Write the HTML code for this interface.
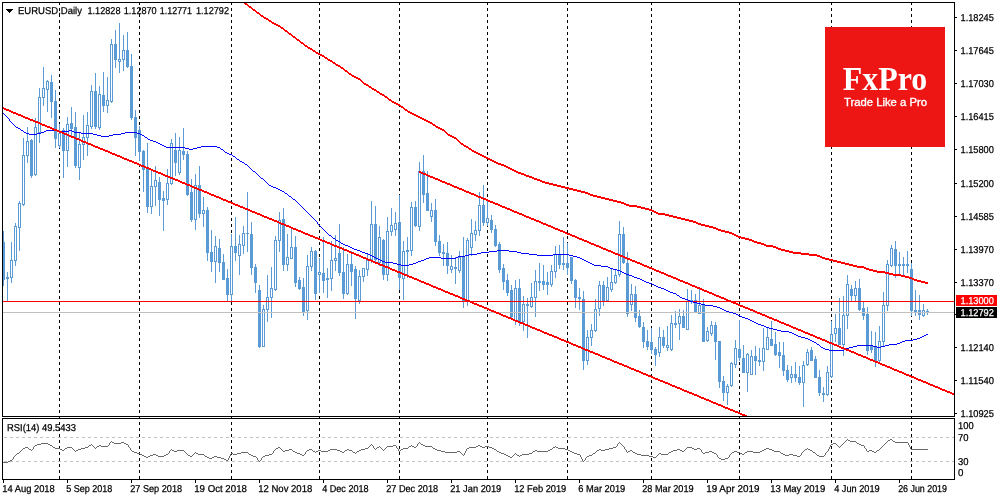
<!DOCTYPE html><html><head><meta charset="utf-8"><title>EURUSD Daily</title><style>
html,body{margin:0;padding:0;background:#fff;width:1000px;height:500px;overflow:hidden}
svg{display:block}text{font-family:"Liberation Sans",Arial,sans-serif;fill:#000}.ax{stroke:#000;stroke-width:0.25px;text-rendering:geometricPrecision}
.ax{font-size:10px}
</style></head><body>
<svg width="1000" height="500" viewBox="0 0 1000 500">
<rect x="0" y="0" width="1000" height="500" fill="#fff"/>
<defs><clipPath id="cm"><rect x="3" y="3" width="951" height="413"/></clipPath><clipPath id="cr"><rect x="3" y="419" width="951" height="60"/></clipPath></defs>
<g stroke="#000" stroke-width="1" stroke-dasharray="3 3" shape-rendering="crispEdges"><line x1="59.5" y1="2" x2="59.5" y2="479"/><line x1="139.5" y1="2" x2="139.5" y2="479"/><line x1="231.5" y1="2" x2="231.5" y2="479"/><line x1="319.5" y1="2" x2="319.5" y2="479"/><line x1="399.5" y1="2" x2="399.5" y2="479"/><line x1="487.5" y1="2" x2="487.5" y2="479"/><line x1="567.5" y1="2" x2="567.5" y2="479"/><line x1="651.5" y1="2" x2="651.5" y2="479"/><line x1="739.5" y1="2" x2="739.5" y2="479"/><line x1="831.5" y1="2" x2="831.5" y2="479"/><line x1="911.5" y1="2" x2="911.5" y2="479"/></g>
<g clip-path="url(#cr)">
<g stroke="#c0c0c0" stroke-width="1" stroke-dasharray="3 3" shape-rendering="crispEdges"><line x1="4" y1="437.5" x2="954" y2="437.5"/><line x1="4" y1="461.5" x2="954" y2="461.5"/></g>
<path d="M847 439h1v1h-1zM890 439h2v1h-2zM846 440h1v1h-1zM848 440h2v1h-2zM888 440h2v1h-2zM892 440h1v1h-1zM111 441h1v1h-1zM845 441h1v1h-1zM850 441h6v1h-6zM887 441h1v1h-1zM893 441h2v1h-2zM110 442h1v1h-1zM112 442h2v1h-2zM121 442h3v1h-3zM419 442h1v1h-1zM619 442h1v1h-1zM844 442h1v1h-1zM856 442h1v1h-1zM886 442h1v1h-1zM895 442h13v1h-13zM41 443h7v1h-7zM109 443h1v1h-1zM114 443h7v1h-7zM124 443h2v1h-2zM418 443h1v1h-1zM420 443h1v1h-1zM618 443h1v1h-1zM620 443h1v1h-1zM833 443h3v1h-3zM843 443h1v1h-1zM857 443h2v1h-2zM885 443h1v1h-1zM908 443h1v1h-1zM37 444h4v1h-4zM48 444h2v1h-2zM91 444h1v1h-1zM109 444h1v1h-1zM126 444h2v1h-2zM371 444h1v1h-1zM417 444h1v1h-1zM421 444h2v1h-2zM617 444h1v1h-1zM621 444h1v1h-1zM831 444h2v1h-2zM836 444h1v1h-1zM842 444h1v1h-1zM859 444h2v1h-2zM884 444h1v1h-1zM908 444h1v1h-1zM35 445h2v1h-2zM50 445h2v1h-2zM89 445h2v1h-2zM92 445h1v1h-1zM99 445h2v1h-2zM108 445h1v1h-1zM128 445h1v1h-1zM370 445h1v1h-1zM372 445h1v1h-1zM393 445h3v1h-3zM411 445h1v1h-1zM417 445h1v1h-1zM423 445h2v1h-2zM478 445h2v1h-2zM617 445h1v1h-1zM622 445h1v1h-1zM830 445h1v1h-1zM837 445h1v1h-1zM841 445h1v1h-1zM861 445h3v1h-3zM883 445h1v1h-1zM909 445h1v1h-1zM34 446h1v1h-1zM52 446h1v1h-1zM88 446h1v1h-1zM93 446h1v1h-1zM97 446h2v1h-2zM101 446h7v1h-7zM128 446h1v1h-1zM369 446h1v1h-1zM373 446h1v1h-1zM379 446h1v1h-1zM387 446h6v1h-6zM396 446h1v1h-1zM409 446h2v1h-2zM412 446h2v1h-2zM416 446h1v1h-1zM425 446h7v1h-7zM476 446h2v1h-2zM480 446h2v1h-2zM485 446h4v1h-4zM555 446h1v1h-1zM616 446h1v1h-1zM623 446h1v1h-1zM830 446h1v1h-1zM838 446h1v1h-1zM840 446h1v1h-1zM864 446h1v1h-1zM882 446h1v1h-1zM909 446h1v1h-1zM25 447h3v1h-3zM33 447h1v1h-1zM53 447h2v1h-2zM67 447h5v1h-5zM85 447h3v1h-3zM94 447h1v1h-1zM96 447h1v1h-1zM129 447h1v1h-1zM278 447h2v1h-2zM368 447h1v1h-1zM373 447h1v1h-1zM377 447h2v1h-2zM380 447h1v1h-1zM386 447h1v1h-1zM396 447h1v1h-1zM408 447h1v1h-1zM414 447h2v1h-2zM432 447h1v1h-1zM469 447h7v1h-7zM482 447h3v1h-3zM489 447h3v1h-3zM553 447h2v1h-2zM556 447h2v1h-2zM613 447h3v1h-3zM624 447h1v1h-1zM687 447h5v1h-5zM829 447h1v1h-1zM839 447h1v1h-1zM864 447h1v1h-1zM881 447h1v1h-1zM910 447h1v1h-1zM23 448h2v1h-2zM28 448h1v1h-1zM33 448h1v1h-1zM55 448h5v1h-5zM65 448h2v1h-2zM72 448h1v1h-1zM81 448h4v1h-4zM95 448h1v1h-1zM130 448h1v1h-1zM276 448h2v1h-2zM280 448h1v1h-1zM365 448h3v1h-3zM374 448h1v1h-1zM376 448h1v1h-1zM381 448h1v1h-1zM385 448h1v1h-1zM397 448h1v1h-1zM403 448h5v1h-5zM433 448h2v1h-2zM467 448h2v1h-2zM492 448h2v1h-2zM552 448h1v1h-1zM558 448h7v1h-7zM609 448h4v1h-4zM624 448h1v1h-1zM686 448h1v1h-1zM692 448h2v1h-2zM697 448h3v1h-3zM766 448h3v1h-3zM807 448h1v1h-1zM829 448h1v1h-1zM865 448h1v1h-1zM880 448h1v1h-1zM910 448h1v1h-1zM22 449h1v1h-1zM29 449h2v1h-2zM32 449h1v1h-1zM60 449h2v1h-2zM64 449h1v1h-1zM73 449h1v1h-1zM78 449h3v1h-3zM130 449h1v1h-1zM171 449h1v1h-1zM275 449h1v1h-1zM281 449h1v1h-1zM289 449h3v1h-3zM309 449h3v1h-3zM330 449h7v1h-7zM347 449h2v1h-2zM361 449h4v1h-4zM375 449h1v1h-1zM382 449h1v1h-1zM384 449h1v1h-1zM398 449h1v1h-1zM401 449h2v1h-2zM435 449h2v1h-2zM466 449h1v1h-1zM494 449h2v1h-2zM550 449h2v1h-2zM565 449h3v1h-3zM599 449h2v1h-2zM605 449h4v1h-4zM625 449h1v1h-1zM677 449h3v1h-3zM685 449h1v1h-1zM694 449h3v1h-3zM700 449h1v1h-1zM764 449h2v1h-2zM769 449h3v1h-3zM805 449h2v1h-2zM808 449h2v1h-2zM828 449h1v1h-1zM866 449h1v1h-1zM879 449h1v1h-1zM911 449h17v1h-17zM21 450h1v1h-1zM31 450h1v1h-1zM62 450h2v1h-2zM74 450h1v1h-1zM76 450h2v1h-2zM131 450h1v1h-1zM170 450h1v1h-1zM172 450h2v1h-2zM177 450h7v1h-7zM274 450h1v1h-1zM282 450h1v1h-1zM285 450h4v1h-4zM292 450h1v1h-1zM307 450h2v1h-2zM312 450h1v1h-1zM318 450h3v1h-3zM328 450h2v1h-2zM337 450h3v1h-3zM345 450h2v1h-2zM349 450h3v1h-3zM359 450h2v1h-2zM383 450h1v1h-1zM398 450h1v1h-1zM400 450h1v1h-1zM437 450h4v1h-4zM466 450h1v1h-1zM496 450h1v1h-1zM535 450h2v1h-2zM548 450h2v1h-2zM568 450h2v1h-2zM597 450h2v1h-2zM601 450h4v1h-4zM626 450h1v1h-1zM630 450h2v1h-2zM673 450h4v1h-4zM680 450h2v1h-2zM684 450h1v1h-1zM701 450h1v1h-1zM762 450h2v1h-2zM772 450h2v1h-2zM804 450h1v1h-1zM810 450h2v1h-2zM828 450h1v1h-1zM866 450h1v1h-1zM869 450h3v1h-3zM877 450h2v1h-2zM20 451h1v1h-1zM75 451h1v1h-1zM132 451h2v1h-2zM169 451h1v1h-1zM174 451h3v1h-3zM184 451h1v1h-1zM273 451h1v1h-1zM283 451h2v1h-2zM293 451h2v1h-2zM306 451h1v1h-1zM313 451h2v1h-2zM316 451h2v1h-2zM321 451h7v1h-7zM340 451h2v1h-2zM344 451h1v1h-1zM352 451h1v1h-1zM357 451h2v1h-2zM399 451h1v1h-1zM441 451h4v1h-4zM457 451h3v1h-3zM465 451h1v1h-1zM497 451h2v1h-2zM533 451h2v1h-2zM537 451h11v1h-11zM570 451h2v1h-2zM596 451h1v1h-1zM626 451h1v1h-1zM628 451h2v1h-2zM632 451h1v1h-1zM671 451h2v1h-2zM682 451h2v1h-2zM701 451h1v1h-1zM709 451h3v1h-3zM734 451h3v1h-3zM747 451h6v1h-6zM760 451h2v1h-2zM774 451h6v1h-6zM803 451h1v1h-1zM812 451h1v1h-1zM827 451h1v1h-1zM867 451h2v1h-2zM872 451h2v1h-2zM876 451h1v1h-1zM19 452h1v1h-1zM134 452h3v1h-3zM169 452h1v1h-1zM185 452h1v1h-1zM195 452h1v1h-1zM241 452h7v1h-7zM273 452h1v1h-1zM295 452h2v1h-2zM305 452h1v1h-1zM315 452h1v1h-1zM342 452h2v1h-2zM353 452h2v1h-2zM356 452h1v1h-1zM445 452h12v1h-12zM460 452h1v1h-1zM465 452h1v1h-1zM499 452h2v1h-2zM532 452h1v1h-1zM572 452h2v1h-2zM595 452h1v1h-1zM627 452h1v1h-1zM633 452h2v1h-2zM669 452h2v1h-2zM702 452h1v1h-1zM705 452h4v1h-4zM712 452h2v1h-2zM732 452h2v1h-2zM737 452h3v1h-3zM745 452h2v1h-2zM753 452h7v1h-7zM780 452h1v1h-1zM802 452h1v1h-1zM813 452h2v1h-2zM826 452h1v1h-1zM874 452h2v1h-2zM17 453h2v1h-2zM137 453h3v1h-3zM168 453h1v1h-1zM186 453h1v1h-1zM194 453h1v1h-1zM196 453h2v1h-2zM231 453h2v1h-2zM237 453h4v1h-4zM248 453h1v1h-1zM272 453h1v1h-1zM297 453h3v1h-3zM305 453h1v1h-1zM355 453h1v1h-1zM461 453h1v1h-1zM464 453h1v1h-1zM501 453h3v1h-3zM515 453h1v1h-1zM529 453h3v1h-3zM574 453h3v1h-3zM593 453h2v1h-2zM635 453h2v1h-2zM659 453h2v1h-2zM668 453h1v1h-1zM703 453h2v1h-2zM714 453h2v1h-2zM731 453h1v1h-1zM740 453h2v1h-2zM744 453h1v1h-1zM781 453h2v1h-2zM801 453h1v1h-1zM815 453h1v1h-1zM825 453h1v1h-1zM16 454h1v1h-1zM140 454h2v1h-2zM153 454h3v1h-3zM166 454h2v1h-2zM187 454h1v1h-1zM193 454h1v1h-1zM198 454h6v1h-6zM230 454h1v1h-1zM233 454h4v1h-4zM249 454h2v1h-2zM269 454h3v1h-3zM300 454h2v1h-2zM304 454h1v1h-1zM462 454h1v1h-1zM464 454h1v1h-1zM504 454h2v1h-2zM514 454h1v1h-1zM516 454h1v1h-1zM522 454h7v1h-7zM577 454h3v1h-3zM592 454h1v1h-1zM637 454h4v1h-4zM658 454h1v1h-1zM661 454h7v1h-7zM716 454h1v1h-1zM730 454h1v1h-1zM742 454h2v1h-2zM783 454h2v1h-2zM789 454h4v1h-4zM801 454h1v1h-1zM816 454h1v1h-1zM825 454h1v1h-1zM15 455h1v1h-1zM142 455h2v1h-2zM150 455h3v1h-3zM156 455h2v1h-2zM164 455h2v1h-2zM188 455h2v1h-2zM192 455h1v1h-1zM204 455h1v1h-1zM230 455h1v1h-1zM251 455h2v1h-2zM265 455h4v1h-4zM302 455h2v1h-2zM463 455h1v1h-1zM506 455h2v1h-2zM513 455h1v1h-1zM517 455h2v1h-2zM520 455h2v1h-2zM580 455h1v1h-1zM589 455h3v1h-3zM641 455h8v1h-8zM657 455h1v1h-1zM717 455h1v1h-1zM729 455h1v1h-1zM785 455h4v1h-4zM793 455h4v1h-4zM800 455h1v1h-1zM817 455h2v1h-2zM824 455h1v1h-1zM14 456h1v1h-1zM144 456h2v1h-2zM148 456h2v1h-2zM158 456h6v1h-6zM190 456h2v1h-2zM205 456h2v1h-2zM214 456h3v1h-3zM229 456h1v1h-1zM253 456h3v1h-3zM263 456h2v1h-2zM508 456h2v1h-2zM512 456h1v1h-1zM519 456h1v1h-1zM580 456h1v1h-1zM587 456h2v1h-2zM649 456h4v1h-4zM656 456h1v1h-1zM717 456h1v1h-1zM729 456h1v1h-1zM797 456h3v1h-3zM819 456h5v1h-5zM13 457h1v1h-1zM146 457h2v1h-2zM207 457h2v1h-2zM212 457h2v1h-2zM217 457h4v1h-4zM229 457h1v1h-1zM256 457h1v1h-1zM262 457h1v1h-1zM510 457h2v1h-2zM581 457h1v1h-1zM586 457h1v1h-1zM653 457h3v1h-3zM718 457h1v1h-1zM728 457h1v1h-1zM13 458h1v1h-1zM209 458h3v1h-3zM221 458h3v1h-3zM228 458h1v1h-1zM257 458h1v1h-1zM261 458h1v1h-1zM581 458h1v1h-1zM585 458h1v1h-1zM719 458h2v1h-2zM725 458h3v1h-3zM12 459h1v1h-1zM224 459h2v1h-2zM228 459h1v1h-1zM257 459h1v1h-1zM261 459h1v1h-1zM582 459h1v1h-1zM585 459h1v1h-1zM721 459h4v1h-4zM10 460h2v1h-2zM226 460h2v1h-2zM258 460h1v1h-1zM260 460h1v1h-1zM582 460h1v1h-1zM584 460h1v1h-1zM8 461h2v1h-2zM259 461h1v1h-1zM583 461h1v1h-1zM3 462h5v1h-5z" fill="#696969" shape-rendering="crispEdges"/>
</g>
<g clip-path="url(#cm)">
<g fill="#5b9bd5" shape-rendering="crispEdges"><rect x="3" y="231" width="1" height="55"/><rect x="2" y="242" width="3" height="38"/><rect x="7" y="272" width="1" height="30"/><rect x="6" y="277" width="3" height="2"/><rect x="11" y="242" width="1" height="41"/><rect x="10" y="260" width="3" height="18"/><rect x="15" y="223" width="1" height="43"/><rect x="14" y="226" width="3" height="35"/><rect x="19" y="201" width="1" height="50"/><rect x="18" y="203" width="3" height="25"/><rect x="23" y="138" width="1" height="68"/><rect x="22" y="155" width="3" height="50"/><rect x="27" y="127" width="1" height="36"/><rect x="26" y="141" width="3" height="15"/><rect x="31" y="139" width="1" height="39"/><rect x="30" y="140" width="3" height="36"/><rect x="35" y="118" width="1" height="58"/><rect x="34" y="127" width="3" height="48"/><rect x="39" y="88" width="1" height="55"/><rect x="38" y="97" width="3" height="36"/><rect x="43" y="67" width="1" height="39"/><rect x="42" y="88" width="3" height="10"/><rect x="47" y="80" width="1" height="32"/><rect x="46" y="81" width="3" height="9"/><rect x="51" y="75" width="1" height="43"/><rect x="50" y="82" width="3" height="20"/><rect x="55" y="90" width="1" height="58"/><rect x="54" y="101" width="3" height="38"/><rect x="59" y="124" width="1" height="24"/><rect x="58" y="133" width="3" height="13"/><rect x="63" y="128" width="1" height="50"/><rect x="62" y="130" width="3" height="21"/><rect x="67" y="117" width="1" height="50"/><rect x="66" y="124" width="3" height="27"/><rect x="71" y="107" width="1" height="29"/><rect x="70" y="123" width="3" height="6"/><rect x="75" y="112" width="1" height="56"/><rect x="74" y="127" width="3" height="39"/><rect x="79" y="132" width="1" height="48"/><rect x="78" y="144" width="3" height="24"/><rect x="83" y="115" width="1" height="45"/><rect x="82" y="137" width="3" height="8"/><rect x="87" y="112" width="1" height="44"/><rect x="86" y="125" width="3" height="13"/><rect x="91" y="85" width="1" height="44"/><rect x="90" y="91" width="3" height="36"/><rect x="95" y="73" width="1" height="56"/><rect x="94" y="91" width="3" height="36"/><rect x="99" y="86" width="1" height="44"/><rect x="98" y="94" width="3" height="34"/><rect x="103" y="72" width="1" height="40"/><rect x="102" y="95" width="3" height="11"/><rect x="107" y="77" width="1" height="36"/><rect x="106" y="100" width="3" height="6"/><rect x="111" y="39" width="1" height="64"/><rect x="110" y="44" width="3" height="58"/><rect x="115" y="30" width="1" height="38"/><rect x="114" y="44" width="3" height="16"/><rect x="119" y="23" width="1" height="50"/><rect x="118" y="59" width="3" height="3"/><rect x="123" y="35" width="1" height="36"/><rect x="122" y="50" width="3" height="10"/><rect x="127" y="32" width="1" height="36"/><rect x="126" y="50" width="3" height="17"/><rect x="131" y="54" width="1" height="66"/><rect x="130" y="66" width="3" height="52"/><rect x="135" y="110" width="1" height="46"/><rect x="134" y="117" width="3" height="21"/><rect x="139" y="126" width="1" height="35"/><rect x="138" y="130" width="3" height="22"/><rect x="143" y="150" width="1" height="42"/><rect x="142" y="151" width="3" height="19"/><rect x="147" y="143" width="1" height="70"/><rect x="146" y="169" width="3" height="38"/><rect x="151" y="170" width="1" height="44"/><rect x="150" y="186" width="3" height="21"/><rect x="155" y="166" width="1" height="40"/><rect x="154" y="180" width="3" height="7"/><rect x="159" y="177" width="1" height="39"/><rect x="158" y="182" width="3" height="18"/><rect x="163" y="191" width="1" height="40"/><rect x="162" y="198" width="3" height="3"/><rect x="167" y="169" width="1" height="36"/><rect x="166" y="183" width="3" height="17"/><rect x="171" y="139" width="1" height="46"/><rect x="170" y="143" width="3" height="41"/><rect x="175" y="133" width="1" height="43"/><rect x="174" y="150" width="3" height="13"/><rect x="179" y="137" width="1" height="38"/><rect x="178" y="150" width="3" height="23"/><rect x="183" y="128" width="1" height="32"/><rect x="182" y="151" width="3" height="4"/><rect x="187" y="151" width="1" height="45"/><rect x="186" y="154" width="3" height="41"/><rect x="191" y="179" width="1" height="43"/><rect x="190" y="192" width="3" height="28"/><rect x="195" y="174" width="1" height="56"/><rect x="194" y="185" width="3" height="35"/><rect x="199" y="166" width="1" height="52"/><rect x="198" y="185" width="3" height="29"/><rect x="203" y="197" width="1" height="30"/><rect x="202" y="210" width="3" height="4"/><rect x="207" y="207" width="1" height="54"/><rect x="206" y="210" width="3" height="43"/><rect x="211" y="230" width="1" height="42"/><rect x="210" y="252" width="3" height="10"/><rect x="215" y="236" width="1" height="47"/><rect x="214" y="246" width="3" height="16"/><rect x="219" y="239" width="1" height="33"/><rect x="218" y="248" width="3" height="15"/><rect x="223" y="254" width="1" height="26"/><rect x="222" y="262" width="3" height="18"/><rect x="227" y="269" width="1" height="33"/><rect x="226" y="278" width="3" height="17"/><rect x="231" y="234" width="1" height="67"/><rect x="230" y="246" width="3" height="49"/><rect x="235" y="217" width="1" height="44"/><rect x="234" y="246" width="3" height="7"/><rect x="239" y="235" width="1" height="40"/><rect x="238" y="244" width="3" height="12"/><rect x="243" y="226" width="1" height="28"/><rect x="242" y="233" width="3" height="13"/><rect x="247" y="192" width="1" height="60"/><rect x="246" y="233" width="3" height="1"/><rect x="251" y="222" width="1" height="53"/><rect x="250" y="234" width="3" height="34"/><rect x="255" y="264" width="1" height="29"/><rect x="254" y="267" width="3" height="16"/><rect x="259" y="285" width="1" height="63"/><rect x="258" y="290" width="3" height="57"/><rect x="263" y="305" width="1" height="42"/><rect x="262" y="309" width="3" height="38"/><rect x="267" y="275" width="1" height="47"/><rect x="266" y="297" width="3" height="13"/><rect x="271" y="267" width="1" height="51"/><rect x="270" y="288" width="3" height="10"/><rect x="275" y="236" width="1" height="55"/><rect x="274" y="240" width="3" height="50"/><rect x="279" y="212" width="1" height="40"/><rect x="278" y="220" width="3" height="21"/><rect x="283" y="208" width="1" height="63"/><rect x="282" y="219" width="3" height="46"/><rect x="287" y="234" width="1" height="37"/><rect x="286" y="257" width="3" height="8"/><rect x="291" y="229" width="1" height="30"/><rect x="290" y="247" width="3" height="12"/><rect x="295" y="236" width="1" height="51"/><rect x="294" y="247" width="3" height="36"/><rect x="299" y="277" width="1" height="13"/><rect x="298" y="280" width="3" height="9"/><rect x="303" y="278" width="1" height="38"/><rect x="302" y="287" width="3" height="25"/><rect x="307" y="255" width="1" height="65"/><rect x="306" y="266" width="3" height="45"/><rect x="311" y="247" width="1" height="24"/><rect x="310" y="251" width="3" height="16"/><rect x="315" y="250" width="1" height="50"/><rect x="314" y="251" width="3" height="43"/><rect x="319" y="258" width="1" height="35"/><rect x="318" y="272" width="3" height="3"/><rect x="323" y="237" width="1" height="56"/><rect x="322" y="273" width="3" height="8"/><rect x="327" y="268" width="1" height="30"/><rect x="326" y="278" width="3" height="2"/><rect x="331" y="241" width="1" height="50"/><rect x="330" y="260" width="3" height="19"/><rect x="335" y="235" width="1" height="36"/><rect x="334" y="258" width="3" height="3"/><rect x="339" y="224" width="1" height="52"/><rect x="338" y="253" width="3" height="20"/><rect x="343" y="247" width="1" height="52"/><rect x="342" y="272" width="3" height="22"/><rect x="347" y="254" width="1" height="41"/><rect x="346" y="264" width="3" height="30"/><rect x="351" y="251" width="1" height="35"/><rect x="350" y="264" width="3" height="8"/><rect x="355" y="266" width="1" height="53"/><rect x="354" y="269" width="3" height="30"/><rect x="359" y="270" width="1" height="34"/><rect x="358" y="276" width="3" height="25"/><rect x="363" y="268" width="1" height="14"/><rect x="362" y="268" width="3" height="9"/><rect x="367" y="254" width="1" height="22"/><rect x="366" y="260" width="3" height="10"/><rect x="371" y="201" width="1" height="62"/><rect x="370" y="224" width="3" height="36"/><rect x="375" y="206" width="1" height="57"/><rect x="374" y="224" width="3" height="36"/><rect x="379" y="226" width="1" height="40"/><rect x="378" y="237" width="3" height="26"/><rect x="383" y="239" width="1" height="41"/><rect x="382" y="240" width="3" height="35"/><rect x="387" y="217" width="1" height="64"/><rect x="386" y="231" width="3" height="44"/><rect x="391" y="208" width="1" height="28"/><rect x="390" y="225" width="3" height="7"/><rect x="395" y="212" width="1" height="24"/><rect x="394" y="223" width="3" height="7"/><rect x="399" y="195" width="1" height="95"/><rect x="398" y="222" width="3" height="56"/><rect x="403" y="241" width="1" height="59"/><rect x="402" y="251" width="3" height="28"/><rect x="407" y="237" width="1" height="41"/><rect x="406" y="250" width="3" height="2"/><rect x="411" y="202" width="1" height="54"/><rect x="410" y="207" width="3" height="44"/><rect x="415" y="201" width="1" height="26"/><rect x="414" y="207" width="3" height="19"/><rect x="419" y="162" width="1" height="69"/><rect x="418" y="171" width="3" height="56"/><rect x="423" y="155" width="1" height="48"/><rect x="422" y="171" width="3" height="24"/><rect x="427" y="171" width="1" height="40"/><rect x="426" y="193" width="3" height="18"/><rect x="431" y="203" width="1" height="19"/><rect x="430" y="210" width="3" height="7"/><rect x="435" y="199" width="1" height="47"/><rect x="434" y="210" width="3" height="32"/><rect x="439" y="235" width="1" height="21"/><rect x="438" y="241" width="3" height="12"/><rect x="443" y="244" width="1" height="22"/><rect x="442" y="252" width="3" height="2"/><rect x="447" y="242" width="1" height="32"/><rect x="446" y="253" width="3" height="13"/><rect x="451" y="255" width="1" height="18"/><rect x="450" y="266" width="3" height="4"/><rect x="455" y="257" width="1" height="27"/><rect x="454" y="267" width="3" height="2"/><rect x="459" y="251" width="1" height="22"/><rect x="458" y="257" width="3" height="14"/><rect x="463" y="237" width="1" height="71"/><rect x="462" y="257" width="3" height="44"/><rect x="467" y="238" width="1" height="68"/><rect x="466" y="240" width="3" height="61"/><rect x="471" y="219" width="1" height="37"/><rect x="470" y="233" width="3" height="15"/><rect x="475" y="221" width="1" height="20"/><rect x="474" y="230" width="3" height="5"/><rect x="479" y="192" width="1" height="44"/><rect x="478" y="205" width="3" height="26"/><rect x="483" y="185" width="1" height="41"/><rect x="482" y="205" width="3" height="18"/><rect x="487" y="200" width="1" height="26"/><rect x="486" y="218" width="3" height="5"/><rect x="491" y="215" width="1" height="18"/><rect x="490" y="220" width="3" height="10"/><rect x="495" y="225" width="1" height="22"/><rect x="494" y="229" width="3" height="17"/><rect x="499" y="242" width="1" height="31"/><rect x="498" y="244" width="3" height="26"/><rect x="503" y="264" width="1" height="26"/><rect x="502" y="268" width="3" height="14"/><rect x="507" y="274" width="1" height="22"/><rect x="506" y="280" width="3" height="13"/><rect x="511" y="285" width="1" height="33"/><rect x="510" y="290" width="3" height="27"/><rect x="515" y="280" width="1" height="45"/><rect x="514" y="288" width="3" height="33"/><rect x="519" y="279" width="1" height="47"/><rect x="518" y="288" width="3" height="35"/><rect x="523" y="296" width="1" height="35"/><rect x="522" y="304" width="3" height="18"/><rect x="527" y="298" width="1" height="40"/><rect x="526" y="304" width="3" height="2"/><rect x="531" y="283" width="1" height="25"/><rect x="530" y="297" width="3" height="10"/><rect x="535" y="270" width="1" height="47"/><rect x="534" y="281" width="3" height="17"/><rect x="539" y="263" width="1" height="28"/><rect x="538" y="281" width="3" height="2"/><rect x="543" y="265" width="1" height="25"/><rect x="542" y="281" width="3" height="4"/><rect x="547" y="272" width="1" height="23"/><rect x="546" y="282" width="3" height="3"/><rect x="551" y="265" width="1" height="22"/><rect x="550" y="271" width="3" height="14"/><rect x="555" y="246" width="1" height="32"/><rect x="554" y="254" width="3" height="18"/><rect x="559" y="245" width="1" height="24"/><rect x="558" y="255" width="3" height="10"/><rect x="563" y="237" width="1" height="33"/><rect x="562" y="263" width="3" height="2"/><rect x="567" y="243" width="1" height="32"/><rect x="566" y="263" width="3" height="5"/><rect x="571" y="257" width="1" height="27"/><rect x="570" y="257" width="3" height="24"/><rect x="575" y="279" width="1" height="29"/><rect x="574" y="280" width="3" height="18"/><rect x="579" y="288" width="1" height="22"/><rect x="578" y="297" width="3" height="2"/><rect x="583" y="291" width="1" height="79"/><rect x="582" y="299" width="3" height="62"/><rect x="587" y="330" width="1" height="35"/><rect x="586" y="337" width="3" height="24"/><rect x="591" y="324" width="1" height="22"/><rect x="590" y="330" width="3" height="8"/><rect x="595" y="299" width="1" height="33"/><rect x="594" y="309" width="3" height="22"/><rect x="599" y="281" width="1" height="35"/><rect x="598" y="285" width="3" height="24"/><rect x="603" y="281" width="1" height="25"/><rect x="602" y="285" width="3" height="16"/><rect x="607" y="277" width="1" height="24"/><rect x="606" y="287" width="3" height="14"/><rect x="611" y="269" width="1" height="23"/><rect x="610" y="282" width="3" height="8"/><rect x="615" y="269" width="1" height="15"/><rect x="614" y="275" width="3" height="8"/><rect x="619" y="221" width="1" height="56"/><rect x="618" y="234" width="3" height="41"/><rect x="623" y="227" width="1" height="37"/><rect x="622" y="234" width="3" height="29"/><rect x="627" y="252" width="1" height="65"/><rect x="626" y="263" width="3" height="51"/><rect x="631" y="284" width="1" height="27"/><rect x="630" y="294" width="3" height="11"/><rect x="635" y="286" width="1" height="36"/><rect x="634" y="294" width="3" height="24"/><rect x="639" y="310" width="1" height="18"/><rect x="638" y="316" width="3" height="11"/><rect x="643" y="322" width="1" height="26"/><rect x="642" y="327" width="3" height="15"/><rect x="647" y="330" width="1" height="20"/><rect x="646" y="341" width="3" height="6"/><rect x="651" y="328" width="1" height="26"/><rect x="650" y="342" width="3" height="8"/><rect x="655" y="347" width="1" height="19"/><rect x="654" y="349" width="3" height="6"/><rect x="659" y="327" width="1" height="30"/><rect x="658" y="337" width="3" height="16"/><rect x="663" y="330" width="1" height="18"/><rect x="662" y="337" width="3" height="9"/><rect x="667" y="326" width="1" height="25"/><rect x="666" y="345" width="3" height="3"/><rect x="671" y="315" width="1" height="36"/><rect x="670" y="323" width="3" height="27"/><rect x="675" y="311" width="1" height="17"/><rect x="674" y="323" width="3" height="2"/><rect x="679" y="309" width="1" height="31"/><rect x="678" y="316" width="3" height="8"/><rect x="683" y="310" width="1" height="18"/><rect x="682" y="316" width="3" height="12"/><rect x="687" y="289" width="1" height="41"/><rect x="686" y="301" width="3" height="29"/><rect x="691" y="290" width="1" height="14"/><rect x="690" y="300" width="3" height="2"/><rect x="695" y="294" width="1" height="19"/><rect x="694" y="300" width="3" height="13"/><rect x="699" y="289" width="1" height="25"/><rect x="698" y="305" width="3" height="9"/><rect x="703" y="299" width="1" height="43"/><rect x="702" y="304" width="3" height="38"/><rect x="707" y="327" width="1" height="15"/><rect x="706" y="331" width="3" height="10"/><rect x="711" y="321" width="1" height="15"/><rect x="710" y="325" width="3" height="9"/><rect x="715" y="322" width="1" height="38"/><rect x="714" y="325" width="3" height="17"/><rect x="719" y="341" width="1" height="47"/><rect x="718" y="341" width="3" height="41"/><rect x="723" y="376" width="1" height="25"/><rect x="722" y="381" width="3" height="12"/><rect x="727" y="384" width="1" height="21"/><rect x="726" y="386" width="3" height="7"/><rect x="731" y="362" width="1" height="25"/><rect x="730" y="363" width="3" height="23"/><rect x="735" y="340" width="1" height="28"/><rect x="734" y="348" width="3" height="17"/><rect x="739" y="320" width="1" height="41"/><rect x="738" y="349" width="3" height="9"/><rect x="743" y="345" width="1" height="28"/><rect x="742" y="358" width="3" height="15"/><rect x="747" y="353" width="1" height="39"/><rect x="746" y="354" width="3" height="19"/><rect x="751" y="350" width="1" height="25"/><rect x="750" y="356" width="3" height="19"/><rect x="755" y="346" width="1" height="29"/><rect x="754" y="356" width="3" height="5"/><rect x="759" y="348" width="1" height="18"/><rect x="758" y="360" width="3" height="2"/><rect x="763" y="328" width="1" height="43"/><rect x="762" y="348" width="3" height="14"/><rect x="767" y="327" width="1" height="23"/><rect x="766" y="337" width="3" height="13"/><rect x="771" y="321" width="1" height="25"/><rect x="770" y="339" width="3" height="7"/><rect x="775" y="332" width="1" height="24"/><rect x="774" y="344" width="3" height="11"/><rect x="779" y="342" width="1" height="26"/><rect x="778" y="352" width="3" height="4"/><rect x="783" y="342" width="1" height="34"/><rect x="782" y="355" width="3" height="16"/><rect x="787" y="365" width="1" height="17"/><rect x="786" y="370" width="3" height="10"/><rect x="791" y="366" width="1" height="17"/><rect x="790" y="374" width="3" height="4"/><rect x="795" y="362" width="1" height="20"/><rect x="794" y="374" width="3" height="4"/><rect x="799" y="366" width="1" height="19"/><rect x="798" y="377" width="3" height="6"/><rect x="803" y="361" width="1" height="46"/><rect x="802" y="365" width="3" height="18"/><rect x="807" y="349" width="1" height="17"/><rect x="806" y="352" width="3" height="13"/><rect x="811" y="347" width="1" height="14"/><rect x="810" y="350" width="3" height="11"/><rect x="815" y="356" width="1" height="22"/><rect x="814" y="359" width="3" height="19"/><rect x="819" y="370" width="1" height="26"/><rect x="818" y="377" width="3" height="16"/><rect x="823" y="387" width="1" height="15"/><rect x="822" y="393" width="3" height="2"/><rect x="827" y="366" width="1" height="30"/><rect x="826" y="372" width="3" height="23"/><rect x="831" y="321" width="1" height="57"/><rect x="830" y="334" width="3" height="43"/><rect x="835" y="314" width="1" height="28"/><rect x="834" y="328" width="3" height="6"/><rect x="839" y="298" width="1" height="47"/><rect x="838" y="328" width="3" height="17"/><rect x="843" y="296" width="1" height="60"/><rect x="842" y="315" width="3" height="30"/><rect x="847" y="275" width="1" height="54"/><rect x="846" y="284" width="3" height="32"/><rect x="851" y="285" width="1" height="16"/><rect x="850" y="289" width="3" height="7"/><rect x="855" y="281" width="1" height="20"/><rect x="854" y="288" width="3" height="8"/><rect x="859" y="279" width="1" height="32"/><rect x="858" y="288" width="3" height="22"/><rect x="863" y="301" width="1" height="19"/><rect x="862" y="308" width="3" height="8"/><rect x="867" y="307" width="1" height="48"/><rect x="866" y="314" width="3" height="37"/><rect x="871" y="331" width="1" height="22"/><rect x="870" y="346" width="3" height="4"/><rect x="875" y="332" width="1" height="35"/><rect x="874" y="346" width="3" height="15"/><rect x="879" y="326" width="1" height="36"/><rect x="878" y="341" width="3" height="20"/><rect x="883" y="292" width="1" height="54"/><rect x="882" y="305" width="3" height="37"/><rect x="887" y="260" width="1" height="51"/><rect x="886" y="264" width="3" height="42"/><rect x="891" y="245" width="1" height="22"/><rect x="890" y="248" width="3" height="18"/><rect x="895" y="241" width="1" height="37"/><rect x="894" y="249" width="3" height="17"/><rect x="899" y="252" width="1" height="24"/><rect x="898" y="264" width="3" height="2"/><rect x="903" y="257" width="1" height="19"/><rect x="902" y="264" width="3" height="2"/><rect x="907" y="251" width="1" height="22"/><rect x="906" y="264" width="3" height="2"/><rect x="911" y="263" width="1" height="53"/><rect x="910" y="269" width="3" height="42"/><rect x="915" y="290" width="1" height="26"/><rect x="914" y="310" width="3" height="2"/><rect x="919" y="295" width="1" height="25"/><rect x="918" y="310" width="3" height="5"/><rect x="923" y="304" width="1" height="13"/><rect x="922" y="310" width="3" height="6"/><rect x="927" y="309" width="1" height="6"/><rect x="926" y="311" width="3" height="2"/></g>
<g fill="#fff" shape-rendering="crispEdges"><rect x="11" y="261" width="1" height="16"/><rect x="15" y="227" width="1" height="33"/><rect x="19" y="204" width="1" height="23"/><rect x="23" y="156" width="1" height="48"/><rect x="27" y="142" width="1" height="13"/><rect x="35" y="128" width="1" height="46"/><rect x="39" y="98" width="1" height="34"/><rect x="43" y="89" width="1" height="8"/><rect x="47" y="82" width="1" height="7"/><rect x="59" y="134" width="1" height="11"/><rect x="67" y="125" width="1" height="25"/><rect x="79" y="145" width="1" height="22"/><rect x="83" y="138" width="1" height="6"/><rect x="87" y="126" width="1" height="11"/><rect x="91" y="92" width="1" height="34"/><rect x="99" y="95" width="1" height="32"/><rect x="107" y="101" width="1" height="4"/><rect x="111" y="45" width="1" height="56"/><rect x="119" y="60" width="1" height="1"/><rect x="123" y="51" width="1" height="8"/><rect x="151" y="187" width="1" height="19"/><rect x="155" y="181" width="1" height="5"/><rect x="167" y="184" width="1" height="15"/><rect x="171" y="144" width="1" height="39"/><rect x="179" y="151" width="1" height="21"/><rect x="195" y="186" width="1" height="33"/><rect x="203" y="211" width="1" height="2"/><rect x="215" y="247" width="1" height="14"/><rect x="231" y="247" width="1" height="47"/><rect x="239" y="245" width="1" height="10"/><rect x="243" y="234" width="1" height="11"/><rect x="263" y="310" width="1" height="36"/><rect x="267" y="298" width="1" height="11"/><rect x="271" y="289" width="1" height="8"/><rect x="275" y="241" width="1" height="48"/><rect x="279" y="221" width="1" height="19"/><rect x="287" y="258" width="1" height="6"/><rect x="291" y="248" width="1" height="10"/><rect x="307" y="267" width="1" height="43"/><rect x="311" y="252" width="1" height="14"/><rect x="319" y="273" width="1" height="1"/><rect x="331" y="261" width="1" height="17"/><rect x="335" y="259" width="1" height="1"/><rect x="347" y="265" width="1" height="28"/><rect x="359" y="277" width="1" height="23"/><rect x="363" y="269" width="1" height="7"/><rect x="367" y="261" width="1" height="8"/><rect x="371" y="225" width="1" height="34"/><rect x="379" y="238" width="1" height="24"/><rect x="387" y="232" width="1" height="42"/><rect x="391" y="226" width="1" height="5"/><rect x="395" y="224" width="1" height="5"/><rect x="403" y="252" width="1" height="26"/><rect x="411" y="208" width="1" height="42"/><rect x="419" y="172" width="1" height="54"/><rect x="431" y="211" width="1" height="5"/><rect x="451" y="267" width="1" height="2"/><rect x="459" y="258" width="1" height="12"/><rect x="467" y="241" width="1" height="59"/><rect x="471" y="234" width="1" height="13"/><rect x="475" y="231" width="1" height="3"/><rect x="479" y="206" width="1" height="24"/><rect x="487" y="219" width="1" height="3"/><rect x="515" y="289" width="1" height="31"/><rect x="523" y="305" width="1" height="16"/><rect x="531" y="298" width="1" height="8"/><rect x="535" y="282" width="1" height="15"/><rect x="551" y="272" width="1" height="12"/><rect x="555" y="255" width="1" height="16"/><rect x="587" y="338" width="1" height="22"/><rect x="591" y="331" width="1" height="6"/><rect x="595" y="310" width="1" height="20"/><rect x="599" y="286" width="1" height="22"/><rect x="607" y="288" width="1" height="12"/><rect x="611" y="283" width="1" height="6"/><rect x="615" y="276" width="1" height="6"/><rect x="619" y="235" width="1" height="39"/><rect x="631" y="295" width="1" height="9"/><rect x="659" y="338" width="1" height="14"/><rect x="667" y="346" width="1" height="1"/><rect x="671" y="324" width="1" height="25"/><rect x="679" y="317" width="1" height="6"/><rect x="687" y="302" width="1" height="27"/><rect x="699" y="306" width="1" height="7"/><rect x="707" y="332" width="1" height="8"/><rect x="711" y="326" width="1" height="7"/><rect x="727" y="387" width="1" height="5"/><rect x="731" y="364" width="1" height="21"/><rect x="735" y="349" width="1" height="15"/><rect x="747" y="355" width="1" height="17"/><rect x="751" y="357" width="1" height="17"/><rect x="763" y="349" width="1" height="12"/><rect x="767" y="338" width="1" height="11"/><rect x="791" y="375" width="1" height="2"/><rect x="803" y="366" width="1" height="16"/><rect x="807" y="353" width="1" height="11"/><rect x="827" y="373" width="1" height="21"/><rect x="831" y="335" width="1" height="41"/><rect x="835" y="329" width="1" height="4"/><rect x="843" y="316" width="1" height="28"/><rect x="847" y="285" width="1" height="30"/><rect x="855" y="289" width="1" height="6"/><rect x="879" y="342" width="1" height="18"/><rect x="883" y="306" width="1" height="35"/><rect x="887" y="265" width="1" height="40"/><rect x="891" y="249" width="1" height="16"/><rect x="923" y="311" width="1" height="4"/></g>
<g shape-rendering="crispEdges"><line x1="3" y1="301.5" x2="954" y2="301.5" stroke="#ff0000"/><line x1="3" y1="312.5" x2="954" y2="312.5" stroke="#c0c0c0"/></g>
<path d="M3 113h1v1h-1zM4 114h1v1h-1zM5 115h1v1h-1zM6 116h1v1h-1zM7 117h1v1h-1zM8 118h1v1h-1zM9 119h1v1h-1zM9 120h1v1h-1zM10 121h1v1h-1zM11 122h1v1h-1zM12 123h1v1h-1zM13 124h1v1h-1zM14 125h1v1h-1zM15 126h1v1h-1zM16 127h2v1h-2zM18 128h2v1h-2zM20 129h1v1h-1zM21 130h2v1h-2zM46 130h11v1h-11zM69 130h3v1h-3zM23 131h1v1h-1zM44 131h2v1h-2zM57 131h12v1h-12zM72 131h2v1h-2zM24 132h2v1h-2zM41 132h3v1h-3zM74 132h7v1h-7zM125 132h12v1h-12zM26 133h3v1h-3zM37 133h4v1h-4zM81 133h12v1h-12zM121 133h4v1h-4zM137 133h3v1h-3zM29 134h8v1h-8zM93 134h4v1h-4zM113 134h8v1h-8zM140 134h2v1h-2zM97 135h4v1h-4zM109 135h4v1h-4zM142 135h2v1h-2zM101 136h8v1h-8zM144 136h1v1h-1zM145 137h2v1h-2zM147 138h1v1h-1zM148 139h2v1h-2zM150 140h3v1h-3zM153 141h3v1h-3zM156 142h2v1h-2zM158 143h2v1h-2zM160 144h2v1h-2zM162 145h2v1h-2zM164 146h2v1h-2zM201 146h16v1h-16zM166 147h19v1h-19zM197 147h4v1h-4zM217 147h3v1h-3zM185 148h4v1h-4zM193 148h4v1h-4zM220 148h1v1h-1zM189 149h4v1h-4zM221 149h2v1h-2zM223 150h1v1h-1zM224 151h1v1h-1zM225 152h2v1h-2zM227 153h2v1h-2zM229 154h3v1h-3zM232 155h1v1h-1zM233 156h2v1h-2zM235 157h1v1h-1zM236 158h1v1h-1zM237 159h2v1h-2zM239 160h1v1h-1zM240 161h2v1h-2zM242 162h2v1h-2zM244 163h1v1h-1zM245 164h2v1h-2zM247 165h1v1h-1zM248 166h1v1h-1zM249 167h1v1h-1zM250 168h1v1h-1zM251 169h1v1h-1zM252 170h1v1h-1zM253 171h2v1h-2zM255 172h1v1h-1zM256 173h1v1h-1zM257 174h1v1h-1zM258 175h1v1h-1zM259 176h1v1h-1zM260 177h1v1h-1zM261 178h2v1h-2zM263 179h1v1h-1zM264 180h1v1h-1zM265 181h1v1h-1zM266 182h1v1h-1zM267 183h1v1h-1zM268 184h1v1h-1zM269 185h2v1h-2zM271 186h2v1h-2zM273 187h3v1h-3zM276 188h2v1h-2zM278 189h2v1h-2zM280 190h2v1h-2zM282 191h2v1h-2zM284 192h1v1h-1zM285 193h2v1h-2zM287 194h1v1h-1zM288 195h1v1h-1zM289 196h2v1h-2zM291 197h1v1h-1zM292 198h1v1h-1zM293 199h2v1h-2zM295 200h1v1h-1zM296 201h1v1h-1zM297 202h1v1h-1zM298 203h1v1h-1zM299 204h1v1h-1zM300 205h1v1h-1zM301 206h1v1h-1zM302 207h1v1h-1zM303 208h1v1h-1zM304 209h1v1h-1zM305 210h1v1h-1zM306 211h1v1h-1zM307 212h1v1h-1zM308 213h1v1h-1zM309 214h1v1h-1zM310 215h1v1h-1zM311 216h1v1h-1zM312 217h1v1h-1zM313 218h1v1h-1zM314 219h1v1h-1zM315 220h1v1h-1zM316 221h1v1h-1zM317 222h1v1h-1zM317 223h1v1h-1zM318 224h1v1h-1zM319 225h1v1h-1zM320 226h1v1h-1zM321 227h1v1h-1zM322 228h1v1h-1zM323 229h1v1h-1zM324 230h1v1h-1zM325 231h1v1h-1zM326 232h1v1h-1zM327 233h1v1h-1zM328 234h1v1h-1zM329 235h2v1h-2zM331 236h1v1h-1zM332 237h1v1h-1zM333 238h2v1h-2zM335 239h1v1h-1zM336 240h2v1h-2zM338 241h2v1h-2zM340 242h1v1h-1zM341 243h2v1h-2zM343 244h2v1h-2zM345 245h3v1h-3zM348 246h2v1h-2zM350 247h2v1h-2zM352 248h2v1h-2zM354 249h3v1h-3zM357 250h3v1h-3zM497 250h12v1h-12zM360 251h2v1h-2zM489 251h8v1h-8zM509 251h8v1h-8zM362 252h3v1h-3zM481 252h8v1h-8zM517 252h4v1h-4zM365 253h3v1h-3zM477 253h4v1h-4zM521 253h8v1h-8zM368 254h2v1h-2zM469 254h8v1h-8zM529 254h8v1h-8zM553 254h16v1h-16zM370 255h2v1h-2zM465 255h4v1h-4zM537 255h16v1h-16zM569 255h4v1h-4zM372 256h2v1h-2zM458 256h7v1h-7zM573 256h4v1h-4zM374 257h2v1h-2zM429 257h12v1h-12zM456 257h2v1h-2zM577 257h3v1h-3zM376 258h2v1h-2zM426 258h3v1h-3zM441 258h15v1h-15zM580 258h2v1h-2zM378 259h2v1h-2zM424 259h2v1h-2zM582 259h2v1h-2zM380 260h2v1h-2zM421 260h3v1h-3zM584 260h2v1h-2zM382 261h3v1h-3zM418 261h3v1h-3zM586 261h2v1h-2zM385 262h8v1h-8zM416 262h2v1h-2zM588 262h2v1h-2zM393 263h4v1h-4zM413 263h3v1h-3zM590 263h2v1h-2zM397 264h4v1h-4zM409 264h4v1h-4zM592 264h2v1h-2zM401 265h8v1h-8zM594 265h7v1h-7zM601 266h7v1h-7zM608 267h2v1h-2zM610 268h3v1h-3zM613 269h4v1h-4zM617 270h3v1h-3zM620 271h2v1h-2zM622 272h2v1h-2zM624 273h2v1h-2zM626 274h3v1h-3zM629 275h3v1h-3zM632 276h2v1h-2zM634 277h3v1h-3zM637 278h3v1h-3zM640 279h2v1h-2zM642 280h2v1h-2zM644 281h2v1h-2zM646 282h3v1h-3zM649 283h3v1h-3zM652 284h2v1h-2zM654 285h2v1h-2zM656 286h2v1h-2zM658 287h3v1h-3zM661 288h3v1h-3zM664 289h2v1h-2zM666 290h2v1h-2zM668 291h2v1h-2zM670 292h3v1h-3zM673 293h3v1h-3zM676 294h1v1h-1zM677 295h2v1h-2zM679 296h1v1h-1zM680 297h2v1h-2zM682 298h3v1h-3zM685 299h3v1h-3zM688 300h2v1h-2zM690 301h3v1h-3zM693 302h4v1h-4zM697 303h4v1h-4zM701 304h4v1h-4zM705 305h8v1h-8zM713 306h4v1h-4zM717 307h3v1h-3zM720 308h2v1h-2zM722 309h2v1h-2zM724 310h2v1h-2zM726 311h3v1h-3zM729 312h4v1h-4zM733 313h3v1h-3zM736 314h2v1h-2zM738 315h2v1h-2zM740 316h2v1h-2zM742 317h3v1h-3zM745 318h3v1h-3zM748 319h2v1h-2zM750 320h2v1h-2zM752 321h2v1h-2zM754 322h2v1h-2zM756 323h2v1h-2zM758 324h3v1h-3zM761 325h3v1h-3zM764 326h2v1h-2zM766 327h3v1h-3zM769 328h4v1h-4zM773 329h4v1h-4zM777 330h4v1h-4zM781 331h8v1h-8zM789 332h3v1h-3zM792 333h2v1h-2zM794 334h2v1h-2zM926 334h2v1h-2zM796 335h2v1h-2zM924 335h2v1h-2zM798 336h3v1h-3zM922 336h2v1h-2zM801 337h4v1h-4zM920 337h2v1h-2zM805 338h3v1h-3zM917 338h3v1h-3zM808 339h2v1h-2zM913 339h4v1h-4zM810 340h2v1h-2zM905 340h8v1h-8zM812 341h2v1h-2zM902 341h3v1h-3zM814 342h2v1h-2zM900 342h2v1h-2zM816 343h1v1h-1zM897 343h3v1h-3zM817 344h2v1h-2zM889 344h8v1h-8zM819 345h1v1h-1zM857 345h16v1h-16zM885 345h4v1h-4zM820 346h1v1h-1zM853 346h4v1h-4zM873 346h4v1h-4zM881 346h4v1h-4zM821 347h2v1h-2zM849 347h4v1h-4zM877 347h4v1h-4zM823 348h2v1h-2zM846 348h3v1h-3zM825 349h4v1h-4zM844 349h2v1h-2zM829 350h15v1h-15z" fill="#0000ff" shape-rendering="crispEdges"/>
<path d="M239 -1h1v2h-1zM240 0h2v2h-2zM242 1h2v2h-2zM244 2h1v2h-1zM245 3h2v2h-2zM247 4h1v2h-1zM248 5h1v2h-1zM249 6h2v2h-2zM251 7h1v2h-1zM252 8h1v2h-1zM253 9h2v2h-2zM255 10h1v2h-1zM256 11h1v2h-1zM257 12h2v2h-2zM259 13h1v2h-1zM260 14h1v2h-1zM261 15h2v2h-2zM263 16h1v2h-1zM264 17h2v2h-2zM266 18h2v2h-2zM268 19h1v2h-1zM269 20h2v2h-2zM271 21h1v2h-1zM272 22h2v2h-2zM274 23h2v2h-2zM276 24h2v2h-2zM278 25h2v2h-2zM280 26h1v2h-1zM281 27h2v2h-2zM283 28h1v2h-1zM284 29h1v2h-1zM285 30h2v2h-2zM287 31h1v2h-1zM288 32h1v2h-1zM289 33h2v2h-2zM291 34h1v2h-1zM292 35h1v2h-1zM293 36h2v2h-2zM295 37h1v2h-1zM296 38h1v2h-1zM297 39h2v2h-2zM299 40h1v2h-1zM300 41h1v2h-1zM301 42h2v2h-2zM303 43h1v2h-1zM304 44h1v2h-1zM305 45h2v2h-2zM307 46h1v2h-1zM308 47h2v2h-2zM310 48h2v2h-2zM312 49h1v2h-1zM313 50h2v2h-2zM315 51h1v2h-1zM316 52h2v2h-2zM318 53h2v2h-2zM320 54h2v2h-2zM322 55h2v2h-2zM324 56h1v2h-1zM325 57h2v2h-2zM327 58h1v2h-1zM328 59h2v2h-2zM330 60h2v2h-2zM332 61h1v2h-1zM333 62h2v2h-2zM335 63h1v2h-1zM336 64h2v2h-2zM338 65h2v2h-2zM340 66h1v2h-1zM341 67h2v2h-2zM343 68h1v2h-1zM344 69h1v2h-1zM345 70h2v2h-2zM347 71h1v2h-1zM348 72h1v2h-1zM349 73h2v2h-2zM351 74h1v2h-1zM352 75h2v2h-2zM354 76h2v2h-2zM356 77h2v2h-2zM358 78h2v2h-2zM360 79h1v2h-1zM361 80h1v2h-1zM362 81h1v2h-1zM363 82h1v2h-1zM364 83h2v2h-2zM366 84h2v2h-2zM368 85h1v2h-1zM369 86h2v2h-2zM371 87h1v2h-1zM372 88h2v2h-2zM374 89h2v2h-2zM376 90h1v2h-1zM377 91h2v2h-2zM379 92h1v2h-1zM380 93h2v2h-2zM382 94h2v2h-2zM384 95h1v2h-1zM385 96h2v2h-2zM387 97h1v2h-1zM388 98h1v2h-1zM389 99h2v2h-2zM391 100h1v2h-1zM392 101h2v2h-2zM394 102h2v2h-2zM396 103h2v2h-2zM398 104h2v2h-2zM400 105h1v2h-1zM401 106h2v2h-2zM403 107h1v2h-1zM404 108h1v2h-1zM405 109h2v2h-2zM407 110h1v2h-1zM408 111h2v2h-2zM410 112h2v2h-2zM412 113h2v2h-2zM414 114h2v2h-2zM416 115h2v2h-2zM418 116h2v2h-2zM420 117h2v2h-2zM422 118h2v2h-2zM424 119h2v2h-2zM426 120h2v2h-2zM428 121h2v2h-2zM430 122h2v2h-2zM432 123h1v2h-1zM433 124h2v2h-2zM435 125h1v2h-1zM436 126h2v2h-2zM438 127h2v2h-2zM440 128h2v2h-2zM442 129h2v2h-2zM444 130h1v2h-1zM445 131h1v2h-1zM446 132h1v2h-1zM447 133h1v2h-1zM448 134h2v2h-2zM450 135h2v2h-2zM452 136h2v2h-2zM454 137h2v2h-2zM456 138h1v2h-1zM457 139h1v2h-1zM458 140h1v2h-1zM459 141h1v2h-1zM460 142h1v2h-1zM461 143h2v2h-2zM463 144h1v2h-1zM464 145h2v2h-2zM466 146h2v2h-2zM468 147h1v2h-1zM469 148h2v2h-2zM471 149h1v2h-1zM472 150h2v2h-2zM474 151h2v2h-2zM476 152h2v2h-2zM478 153h2v2h-2zM480 154h2v2h-2zM482 155h2v2h-2zM484 156h2v2h-2zM486 157h2v2h-2zM488 158h2v2h-2zM490 159h2v2h-2zM492 160h2v2h-2zM494 161h2v2h-2zM496 162h2v2h-2zM498 163h3v2h-3zM501 164h3v2h-3zM504 165h2v2h-2zM506 166h2v2h-2zM508 167h2v2h-2zM510 168h2v2h-2zM512 169h2v2h-2zM514 170h2v2h-2zM516 171h2v2h-2zM518 172h3v2h-3zM521 173h3v2h-3zM524 174h2v2h-2zM526 175h3v2h-3zM529 176h3v2h-3zM532 177h2v2h-2zM534 178h3v2h-3zM537 179h3v2h-3zM540 180h2v2h-2zM542 181h3v2h-3zM545 182h4v2h-4zM549 183h4v2h-4zM553 184h4v2h-4zM557 185h4v2h-4zM561 186h4v2h-4zM565 187h4v2h-4zM569 188h4v2h-4zM573 189h4v2h-4zM577 190h4v2h-4zM581 191h4v2h-4zM585 192h3v2h-3zM588 193h2v2h-2zM590 194h3v2h-3zM593 195h4v2h-4zM597 196h4v2h-4zM601 197h4v2h-4zM605 198h4v2h-4zM609 199h4v2h-4zM613 200h4v2h-4zM617 201h4v2h-4zM621 202h3v2h-3zM624 203h2v2h-2zM626 204h3v2h-3zM629 205h8v2h-8zM637 206h4v2h-4zM641 207h4v2h-4zM645 208h4v2h-4zM649 209h3v2h-3zM652 210h2v2h-2zM654 211h2v2h-2zM656 212h2v2h-2zM658 213h7v2h-7zM665 214h4v2h-4zM669 215h4v2h-4zM673 216h4v2h-4zM677 217h4v2h-4zM681 218h4v2h-4zM685 219h4v2h-4zM689 220h4v2h-4zM693 221h3v2h-3zM696 222h2v2h-2zM698 223h3v2h-3zM701 224h4v2h-4zM705 225h4v2h-4zM709 226h4v2h-4zM713 227h3v2h-3zM716 228h2v2h-2zM718 229h3v2h-3zM721 230h4v2h-4zM725 231h4v2h-4zM729 232h3v2h-3zM732 233h2v2h-2zM734 234h2v2h-2zM736 235h2v2h-2zM738 236h3v2h-3zM741 237h4v2h-4zM745 238h4v2h-4zM749 239h3v2h-3zM752 240h2v2h-2zM754 241h3v2h-3zM757 242h4v2h-4zM761 243h3v2h-3zM764 244h2v2h-2zM766 245h7v2h-7zM773 246h3v2h-3zM776 247h2v2h-2zM778 248h3v2h-3zM781 249h4v2h-4zM785 250h4v2h-4zM789 251h4v2h-4zM793 252h8v2h-8zM801 253h8v2h-8zM809 254h8v2h-8zM817 255h3v2h-3zM820 256h2v2h-2zM822 257h3v2h-3zM825 258h4v2h-4zM829 259h4v2h-4zM833 260h4v2h-4zM837 261h4v2h-4zM841 262h4v2h-4zM845 263h4v2h-4zM849 264h4v2h-4zM853 265h4v2h-4zM857 266h7v2h-7zM864 267h2v2h-2zM866 268h3v2h-3zM869 269h4v2h-4zM873 270h4v2h-4zM877 271h8v2h-8zM885 272h4v2h-4zM889 273h4v2h-4zM893 274h8v2h-8zM901 275h4v2h-4zM905 276h4v2h-4zM909 277h3v2h-3zM912 278h2v2h-2zM914 279h3v2h-3zM917 280h4v2h-4zM921 281h4v2h-4zM925 282h3v2h-3z" fill="#ff0000" shape-rendering="crispEdges"/>
<path d="M-10 102h2v2h-2zM-8 103h2v2h-2zM-6 104h3v2h-3zM-3 105h2v2h-2zM-1 106h2v2h-2zM1 107h3v2h-3zM4 108h2v2h-2zM6 109h3v2h-3zM9 110h2v2h-2zM11 111h2v2h-2zM13 112h3v2h-3zM16 113h2v2h-2zM18 114h3v2h-3zM21 115h2v2h-2zM23 116h2v2h-2zM25 117h3v2h-3zM28 118h2v2h-2zM30 119h3v2h-3zM33 120h2v2h-2zM35 121h3v2h-3zM38 122h2v2h-2zM40 123h2v2h-2zM42 124h3v2h-3zM45 125h2v2h-2zM47 126h3v2h-3zM50 127h2v2h-2zM52 128h2v2h-2zM54 129h3v2h-3zM57 130h2v2h-2zM59 131h3v2h-3zM62 132h2v2h-2zM64 133h3v2h-3zM67 134h2v2h-2zM69 135h2v2h-2zM71 136h3v2h-3zM74 137h2v2h-2zM76 138h3v2h-3zM79 139h2v2h-2zM81 140h2v2h-2zM83 141h3v2h-3zM86 142h2v2h-2zM88 143h3v2h-3zM91 144h2v2h-2zM93 145h2v2h-2zM95 146h3v2h-3zM98 147h2v2h-2zM100 148h3v2h-3zM103 149h2v2h-2zM105 150h3v2h-3zM108 151h2v2h-2zM110 152h2v2h-2zM112 153h3v2h-3zM115 154h2v2h-2zM117 155h3v2h-3zM120 156h2v2h-2zM122 157h2v2h-2zM124 158h3v2h-3zM127 159h2v2h-2zM129 160h3v2h-3zM132 161h2v2h-2zM134 162h3v2h-3zM137 163h2v2h-2zM139 164h2v2h-2zM141 165h3v2h-3zM144 166h2v2h-2zM146 167h3v2h-3zM149 168h2v2h-2zM151 169h2v2h-2zM153 170h3v2h-3zM156 171h2v2h-2zM158 172h3v2h-3zM161 173h2v2h-2zM163 174h2v2h-2zM165 175h3v2h-3zM168 176h2v2h-2zM170 177h3v2h-3zM173 178h2v2h-2zM175 179h3v2h-3zM178 180h2v2h-2zM180 181h2v2h-2zM182 182h3v2h-3zM185 183h2v2h-2zM187 184h3v2h-3zM190 185h2v2h-2zM192 186h2v2h-2zM194 187h3v2h-3zM197 188h2v2h-2zM199 189h3v2h-3zM202 190h2v2h-2zM204 191h3v2h-3zM207 192h2v2h-2zM209 193h2v2h-2zM211 194h3v2h-3zM214 195h2v2h-2zM216 196h3v2h-3zM219 197h2v2h-2zM221 198h2v2h-2zM223 199h3v2h-3zM226 200h2v2h-2zM228 201h3v2h-3zM231 202h2v2h-2zM233 203h2v2h-2zM235 204h3v2h-3zM238 205h2v2h-2zM240 206h3v2h-3zM243 207h2v2h-2zM245 208h3v2h-3zM248 209h2v2h-2zM250 210h2v2h-2zM252 211h3v2h-3zM255 212h2v2h-2zM257 213h3v2h-3zM260 214h2v2h-2zM262 215h2v2h-2zM264 216h3v2h-3zM267 217h2v2h-2zM269 218h3v2h-3zM272 219h2v2h-2zM274 220h3v2h-3zM277 221h2v2h-2zM279 222h2v2h-2zM281 223h3v2h-3zM284 224h2v2h-2zM286 225h3v2h-3zM289 226h2v2h-2zM291 227h2v2h-2zM293 228h3v2h-3zM296 229h2v2h-2zM298 230h3v2h-3zM301 231h2v2h-2zM303 232h2v2h-2zM305 233h3v2h-3zM308 234h2v2h-2zM310 235h3v2h-3zM313 236h2v2h-2zM315 237h3v2h-3zM318 238h2v2h-2zM320 239h2v2h-2zM322 240h3v2h-3zM325 241h2v2h-2zM327 242h3v2h-3zM330 243h2v2h-2zM332 244h2v2h-2zM334 245h3v2h-3zM337 246h2v2h-2zM339 247h3v2h-3zM342 248h2v2h-2zM344 249h3v2h-3zM347 250h2v2h-2zM349 251h2v2h-2zM351 252h3v2h-3zM354 253h2v2h-2zM356 254h3v2h-3zM359 255h2v2h-2zM361 256h2v2h-2zM363 257h3v2h-3zM366 258h2v2h-2zM368 259h3v2h-3zM371 260h2v2h-2zM373 261h2v2h-2zM375 262h3v2h-3zM378 263h2v2h-2zM380 264h3v2h-3zM383 265h2v2h-2zM385 266h3v2h-3zM388 267h2v2h-2zM390 268h2v2h-2zM392 269h3v2h-3zM395 270h2v2h-2zM397 271h3v2h-3zM400 272h2v2h-2zM402 273h2v2h-2zM404 274h3v2h-3zM407 275h2v2h-2zM409 276h3v2h-3zM412 277h2v2h-2zM414 278h3v2h-3zM417 279h2v2h-2zM419 280h2v2h-2zM421 281h3v2h-3zM424 282h2v2h-2zM426 283h3v2h-3zM429 284h2v2h-2zM431 285h2v2h-2zM433 286h3v2h-3zM436 287h2v2h-2zM438 288h3v2h-3zM441 289h2v2h-2zM443 290h2v2h-2zM445 291h3v2h-3zM448 292h2v2h-2zM450 293h3v2h-3zM453 294h2v2h-2zM455 295h3v2h-3zM458 296h2v2h-2zM460 297h2v2h-2zM462 298h3v2h-3zM465 299h2v2h-2zM467 300h3v2h-3zM470 301h2v2h-2zM472 302h2v2h-2zM474 303h3v2h-3zM477 304h2v2h-2zM479 305h3v2h-3zM482 306h2v2h-2zM484 307h3v2h-3zM487 308h2v2h-2zM489 309h2v2h-2zM491 310h3v2h-3zM494 311h2v2h-2zM496 312h3v2h-3zM499 313h2v2h-2zM501 314h2v2h-2zM503 315h3v2h-3zM506 316h2v2h-2zM508 317h3v2h-3zM511 318h2v2h-2zM513 319h2v2h-2zM515 320h3v2h-3zM518 321h2v2h-2zM520 322h3v2h-3zM523 323h2v2h-2zM525 324h3v2h-3zM528 325h2v2h-2zM530 326h2v2h-2zM532 327h3v2h-3zM535 328h2v2h-2zM537 329h3v2h-3zM540 330h2v2h-2zM542 331h2v2h-2zM544 332h3v2h-3zM547 333h2v2h-2zM549 334h3v2h-3zM552 335h2v2h-2zM554 336h3v2h-3zM557 337h2v2h-2zM559 338h2v2h-2zM561 339h3v2h-3zM564 340h2v2h-2zM566 341h3v2h-3zM569 342h2v2h-2zM571 343h2v2h-2zM573 344h3v2h-3zM576 345h2v2h-2zM578 346h3v2h-3zM581 347h2v2h-2zM583 348h2v2h-2zM585 349h3v2h-3zM588 350h2v2h-2zM590 351h3v2h-3zM593 352h2v2h-2zM595 353h3v2h-3zM598 354h2v2h-2zM600 355h2v2h-2zM602 356h3v2h-3zM605 357h2v2h-2zM607 358h3v2h-3zM610 359h2v2h-2zM612 360h2v2h-2zM614 361h3v2h-3zM617 362h2v2h-2zM619 363h3v2h-3zM622 364h2v2h-2zM624 365h3v2h-3zM627 366h2v2h-2zM629 367h2v2h-2zM631 368h3v2h-3zM634 369h2v2h-2zM636 370h3v2h-3zM639 371h2v2h-2zM641 372h2v2h-2zM643 373h3v2h-3zM646 374h2v2h-2zM648 375h3v2h-3zM651 376h2v2h-2zM653 377h2v2h-2zM655 378h3v2h-3zM658 379h2v2h-2zM660 380h3v2h-3zM663 381h2v2h-2zM665 382h3v2h-3zM668 383h2v2h-2zM670 384h2v2h-2zM672 385h3v2h-3zM675 386h2v2h-2zM677 387h3v2h-3zM680 388h2v2h-2zM682 389h2v2h-2zM684 390h3v2h-3zM687 391h2v2h-2zM689 392h3v2h-3zM692 393h2v2h-2zM694 394h3v2h-3zM697 395h2v2h-2zM699 396h2v2h-2zM701 397h3v2h-3zM704 398h2v2h-2zM706 399h3v2h-3zM709 400h2v2h-2zM711 401h2v2h-2zM713 402h3v2h-3zM716 403h2v2h-2zM718 404h3v2h-3zM721 405h2v2h-2zM723 406h2v2h-2zM725 407h3v2h-3zM728 408h2v2h-2zM730 409h3v2h-3zM733 410h2v2h-2zM735 411h3v2h-3zM738 412h2v2h-2zM740 413h2v2h-2zM742 414h3v2h-3zM745 415h2v2h-2zM747 416h3v2h-3zM750 417h2v2h-2zM752 418h2v2h-2zM754 419h3v2h-3zM757 420h2v2h-2zM759 421h2v2h-2z" fill="#ff0000" shape-rendering="crispEdges"/>
<path d="M419 171h2v2h-2zM421 172h2v2h-2zM423 173h3v2h-3zM426 174h2v2h-2zM428 175h2v2h-2zM430 176h3v2h-3zM433 177h2v2h-2zM435 178h3v2h-3zM438 179h2v2h-2zM440 180h2v2h-2zM442 181h3v2h-3zM445 182h2v2h-2zM447 183h3v2h-3zM450 184h2v2h-2zM452 185h2v2h-2zM454 186h3v2h-3zM457 187h2v2h-2zM459 188h3v2h-3zM462 189h2v2h-2zM464 190h2v2h-2zM466 191h3v2h-3zM469 192h2v2h-2zM471 193h3v2h-3zM474 194h2v2h-2zM476 195h2v2h-2zM478 196h3v2h-3zM481 197h2v2h-2zM483 198h3v2h-3zM486 199h2v2h-2zM488 200h2v2h-2zM490 201h3v2h-3zM493 202h2v2h-2zM495 203h3v2h-3zM498 204h2v2h-2zM500 205h2v2h-2zM502 206h3v2h-3zM505 207h2v2h-2zM507 208h3v2h-3zM510 209h2v2h-2zM512 210h2v2h-2zM514 211h3v2h-3zM517 212h2v2h-2zM519 213h3v2h-3zM522 214h2v2h-2zM524 215h2v2h-2zM526 216h3v2h-3zM529 217h2v2h-2zM531 218h3v2h-3zM534 219h2v2h-2zM536 220h3v2h-3zM539 221h2v2h-2zM541 222h2v2h-2zM543 223h3v2h-3zM546 224h2v2h-2zM548 225h3v2h-3zM551 226h2v2h-2zM553 227h2v2h-2zM555 228h3v2h-3zM558 229h2v2h-2zM560 230h3v2h-3zM563 231h2v2h-2zM565 232h2v2h-2zM567 233h3v2h-3zM570 234h2v2h-2zM572 235h3v2h-3zM575 236h2v2h-2zM577 237h2v2h-2zM579 238h3v2h-3zM582 239h2v2h-2zM584 240h3v2h-3zM587 241h2v2h-2zM589 242h2v2h-2zM591 243h3v2h-3zM594 244h2v2h-2zM596 245h3v2h-3zM599 246h2v2h-2zM601 247h2v2h-2zM603 248h3v2h-3zM606 249h2v2h-2zM608 250h3v2h-3zM611 251h2v2h-2zM613 252h2v2h-2zM615 253h3v2h-3zM618 254h2v2h-2zM620 255h3v2h-3zM623 256h2v2h-2zM625 257h2v2h-2zM627 258h3v2h-3zM630 259h2v2h-2zM632 260h3v2h-3zM635 261h2v2h-2zM637 262h3v2h-3zM640 263h2v2h-2zM642 264h2v2h-2zM644 265h3v2h-3zM647 266h2v2h-2zM649 267h3v2h-3zM652 268h2v2h-2zM654 269h2v2h-2zM656 270h3v2h-3zM659 271h2v2h-2zM661 272h3v2h-3zM664 273h2v2h-2zM666 274h2v2h-2zM668 275h3v2h-3zM671 276h2v2h-2zM673 277h3v2h-3zM676 278h2v2h-2zM678 279h2v2h-2zM680 280h3v2h-3zM683 281h2v2h-2zM685 282h3v2h-3zM688 283h2v2h-2zM690 284h2v2h-2zM692 285h3v2h-3zM695 286h2v2h-2zM697 287h3v2h-3zM700 288h2v2h-2zM702 289h2v2h-2zM704 290h3v2h-3zM707 291h2v2h-2zM709 292h3v2h-3zM712 293h2v2h-2zM714 294h2v2h-2zM716 295h3v2h-3zM719 296h2v2h-2zM721 297h3v2h-3zM724 298h2v2h-2zM726 299h2v2h-2zM728 300h3v2h-3zM731 301h2v2h-2zM733 302h3v2h-3zM736 303h2v2h-2zM738 304h2v2h-2zM740 305h3v2h-3zM743 306h2v2h-2zM745 307h3v2h-3zM748 308h2v2h-2zM750 309h3v2h-3zM753 310h2v2h-2zM755 311h2v2h-2zM757 312h3v2h-3zM760 313h2v2h-2zM762 314h3v2h-3zM765 315h2v2h-2zM767 316h2v2h-2zM769 317h3v2h-3zM772 318h2v2h-2zM774 319h3v2h-3zM777 320h2v2h-2zM779 321h2v2h-2zM781 322h3v2h-3zM784 323h2v2h-2zM786 324h3v2h-3zM789 325h2v2h-2zM791 326h2v2h-2zM793 327h3v2h-3zM796 328h2v2h-2zM798 329h3v2h-3zM801 330h2v2h-2zM803 331h2v2h-2zM805 332h3v2h-3zM808 333h2v2h-2zM810 334h3v2h-3zM813 335h2v2h-2zM815 336h2v2h-2zM817 337h3v2h-3zM820 338h2v2h-2zM822 339h3v2h-3zM825 340h2v2h-2zM827 341h2v2h-2zM829 342h3v2h-3zM832 343h2v2h-2zM834 344h3v2h-3zM837 345h2v2h-2zM839 346h2v2h-2zM841 347h3v2h-3zM844 348h2v2h-2zM846 349h3v2h-3zM849 350h2v2h-2zM851 351h3v2h-3zM854 352h2v2h-2zM856 353h2v2h-2zM858 354h3v2h-3zM861 355h2v2h-2zM863 356h3v2h-3zM866 357h2v2h-2zM868 358h2v2h-2zM870 359h3v2h-3zM873 360h2v2h-2zM875 361h3v2h-3zM878 362h2v2h-2zM880 363h2v2h-2zM882 364h3v2h-3zM885 365h2v2h-2zM887 366h3v2h-3zM890 367h2v2h-2zM892 368h2v2h-2zM894 369h3v2h-3zM897 370h2v2h-2zM899 371h3v2h-3zM902 372h2v2h-2zM904 373h2v2h-2zM906 374h3v2h-3zM909 375h2v2h-2zM911 376h3v2h-3zM914 377h2v2h-2zM916 378h2v2h-2zM918 379h3v2h-3zM921 380h2v2h-2zM923 381h3v2h-3zM926 382h2v2h-2zM928 383h2v2h-2zM930 384h3v2h-3zM933 385h2v2h-2zM935 386h3v2h-3zM938 387h2v2h-2zM940 388h2v2h-2zM942 389h3v2h-3zM945 390h2v2h-2zM947 391h3v2h-3zM950 392h2v2h-2zM952 393h2v2h-2zM954 394h3v2h-3zM957 395h2v2h-2zM959 396h2v2h-2z" fill="#ff0000" shape-rendering="crispEdges"/>
</g>
<g fill="none" stroke="#000" stroke-width="1" shape-rendering="crispEdges"><rect x="2.5" y="2.5" width="952" height="414"/><rect x="2.5" y="418.5" width="952" height="61"/></g>
<rect x="825" y="27" width="120" height="120" fill="#ee1515"/>
<text x="885" y="90" text-anchor="middle" style="font-family:'Liberation Serif',serif;font-weight:bold;font-size:34px;fill:#fff" textLength="84.5" lengthAdjust="spacingAndGlyphs">FxPro</text>
<text x="885.5" y="105.6" text-anchor="middle" style="font-size:11px;fill:#fff;stroke:#fff;stroke-width:0.35px" textLength="83" lengthAdjust="spacingAndGlyphs">Trade Like a Pro</text>
<g fill="#000" shape-rendering="crispEdges"><rect x="955" y="17" width="2" height="1"/><rect x="955" y="50" width="2" height="1"/><rect x="955" y="83" width="2" height="1"/><rect x="955" y="116" width="2" height="1"/><rect x="955" y="149" width="2" height="1"/><rect x="955" y="183" width="2" height="1"/><rect x="955" y="216" width="2" height="1"/><rect x="955" y="249" width="2" height="1"/><rect x="955" y="282" width="2" height="1"/><rect x="955" y="347" width="2" height="1"/><rect x="955" y="380" width="2" height="1"/><rect x="955" y="413" width="2" height="1"/><rect x="955" y="314" width="1" height="1"/></g>
<text class="ax" x="960.5" y="21" textLength="33.4" lengthAdjust="spacingAndGlyphs">1.18245</text>
<text class="ax" x="960.5" y="54" textLength="33.4" lengthAdjust="spacingAndGlyphs">1.17645</text>
<text class="ax" x="960.5" y="87" textLength="33.4" lengthAdjust="spacingAndGlyphs">1.17030</text>
<text class="ax" x="960.5" y="120" textLength="33.4" lengthAdjust="spacingAndGlyphs">1.16415</text>
<text class="ax" x="960.5" y="153" textLength="33.4" lengthAdjust="spacingAndGlyphs">1.15800</text>
<text class="ax" x="960.5" y="187" textLength="33.4" lengthAdjust="spacingAndGlyphs">1.15200</text>
<text class="ax" x="960.5" y="220" textLength="33.4" lengthAdjust="spacingAndGlyphs">1.14585</text>
<text class="ax" x="960.5" y="253" textLength="33.4" lengthAdjust="spacingAndGlyphs">1.13970</text>
<text class="ax" x="960.5" y="286" textLength="33.4" lengthAdjust="spacingAndGlyphs">1.13370</text>
<text class="ax" x="960.5" y="351" textLength="33.4" lengthAdjust="spacingAndGlyphs">1.12140</text>
<text class="ax" x="960.5" y="384" textLength="33.4" lengthAdjust="spacingAndGlyphs">1.11540</text>
<text class="ax" x="960.5" y="417" textLength="33.4" lengthAdjust="spacingAndGlyphs">1.10925</text>
<rect x="956" y="295" width="41" height="11" fill="#ff0000"/>
<text class="ax" x="960.5" y="304" textLength="33.4" lengthAdjust="spacingAndGlyphs" style="fill:#fff;stroke:#fff">1.13000</text>
<rect x="956" y="307" width="41" height="11" fill="#000"/>
<text class="ax" x="960.5" y="316" textLength="33.4" lengthAdjust="spacingAndGlyphs" style="fill:#fff;stroke:#fff">1.12792</text>
<text class="ax" x="958" y="429" textLength="15.6" lengthAdjust="spacingAndGlyphs">100</text>
<text class="ax" x="958" y="441" textLength="10.5" lengthAdjust="spacingAndGlyphs">70</text>
<text class="ax" x="958" y="465" textLength="10.5" lengthAdjust="spacingAndGlyphs">30</text>
<text class="ax" x="958" y="476" textLength="5.4" lengthAdjust="spacingAndGlyphs">0</text>
<g fill="#000" shape-rendering="crispEdges"><rect x="3" y="480" width="1" height="3"/><rect x="67" y="480" width="1" height="3"/><rect x="131" y="480" width="1" height="3"/><rect x="195" y="480" width="1" height="3"/><rect x="259" y="480" width="1" height="3"/><rect x="323" y="480" width="1" height="3"/><rect x="387" y="480" width="1" height="3"/><rect x="451" y="480" width="1" height="3"/><rect x="515" y="480" width="1" height="3"/><rect x="579" y="480" width="1" height="3"/><rect x="643" y="480" width="1" height="3"/><rect x="707" y="480" width="1" height="3"/><rect x="771" y="480" width="1" height="3"/><rect x="835" y="480" width="1" height="3"/><rect x="899" y="480" width="1" height="3"/></g>
<text class="ax" x="2.2" y="492" textLength="52.6" lengthAdjust="spacingAndGlyphs">14 Aug 2018</text>
<text class="ax" x="66.2" y="492" textLength="46.2" lengthAdjust="spacingAndGlyphs">5 Sep 2018</text>
<text class="ax" x="130.2" y="492" textLength="51.9" lengthAdjust="spacingAndGlyphs">27 Sep 2018</text>
<text class="ax" x="194.2" y="492" textLength="52.7" lengthAdjust="spacingAndGlyphs">19 Oct 2018</text>
<text class="ax" x="258.2" y="492" textLength="54.1" lengthAdjust="spacingAndGlyphs">12 Nov 2018</text>
<text class="ax" x="322.2" y="492" textLength="46.4" lengthAdjust="spacingAndGlyphs">4 Dec 2018</text>
<text class="ax" x="386.2" y="492" textLength="51.9" lengthAdjust="spacingAndGlyphs">27 Dec 2018</text>
<text class="ax" x="450.2" y="492" textLength="51.1" lengthAdjust="spacingAndGlyphs">21 Jan 2019</text>
<text class="ax" x="514.2" y="492" textLength="52.1" lengthAdjust="spacingAndGlyphs">12 Feb 2019</text>
<text class="ax" x="578.2" y="492" textLength="47.1" lengthAdjust="spacingAndGlyphs">6 Mar 2019</text>
<text class="ax" x="642.2" y="492" textLength="51.4" lengthAdjust="spacingAndGlyphs">28 Mar 2019</text>
<text class="ax" x="706.2" y="492" textLength="53.2" lengthAdjust="spacingAndGlyphs">19 Apr 2019</text>
<text class="ax" x="770.2" y="492" textLength="55.0" lengthAdjust="spacingAndGlyphs">13 May 2019</text>
<text class="ax" x="834.2" y="492" textLength="45.5" lengthAdjust="spacingAndGlyphs">4 Jun 2019</text>
<text class="ax" x="898.2" y="492" textLength="48.8" lengthAdjust="spacingAndGlyphs">26 Jun 2019</text>
<path d="M6 9 L13 9 L9.5 13 Z" fill="#000" shape-rendering="crispEdges"/>
<text class="ax" x="18" y="14" textLength="64" lengthAdjust="spacingAndGlyphs">EURUSD,Daily</text>
<text class="ax" x="87.5" y="14" textLength="33" lengthAdjust="spacingAndGlyphs">1.12828</text>
<text class="ax" x="123.7" y="14" textLength="33" lengthAdjust="spacingAndGlyphs">1.12870</text>
<text class="ax" x="159.8" y="14" textLength="32.2" lengthAdjust="spacingAndGlyphs">1.12771</text>
<text class="ax" x="196" y="14" textLength="33" lengthAdjust="spacingAndGlyphs">1.12792</text>
<text class="ax" x="7" y="431" textLength="69" lengthAdjust="spacingAndGlyphs">RSI(14) 49.5433</text>
</svg></body></html>
